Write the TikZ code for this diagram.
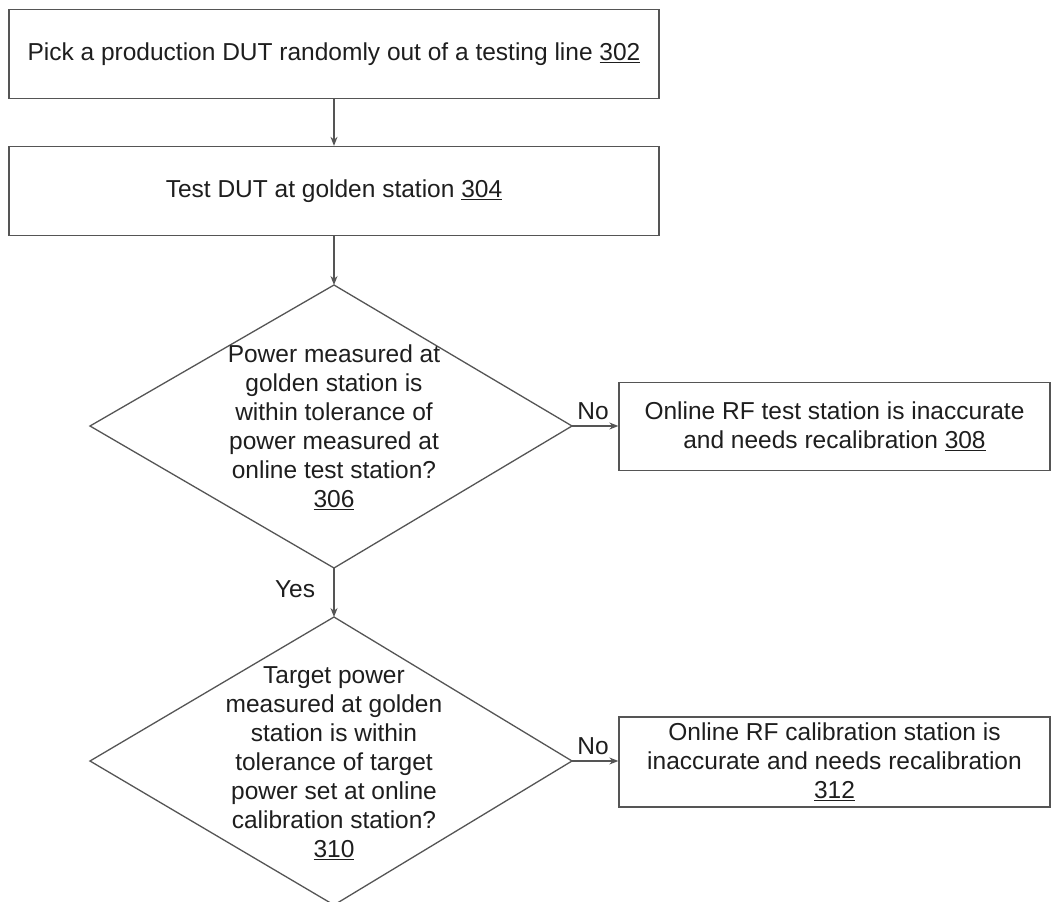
\documentclass[tikz,border=0pt]{standalone}
\usepackage{fontspec}
\setmainfont{Liberation Sans}
\usetikzlibrary{arrows.meta}
\definecolor{linec}{HTML}{555555}
\definecolor{txtc}{HTML}{1E1E1E}
\begin{document}
\begin{tikzpicture}[x=1pt,y=-1pt,
  lbl/.style={text=txtc, font=\fontsize{24.5}{29}\selectfont, align=center, inner sep=0pt},
  stepbox/.style={lbl, draw=linec, line width=1.3pt, minimum width=650pt, minimum height=89pt},
  sidebox/.style={lbl, draw=linec, line width=1.3pt, minimum width=431pt, minimum height=88pt},
  decision/.style={draw=linec, line width=1.3pt, line join=miter},
  arr/.style={draw=linec, line width=1.3pt, -{Stealth[length=9pt,width=7pt]}}]
\useasboundingbox (0,0) rectangle (1053,902);
\clip (0,0) rectangle (1053,902);
\fill[white] (0,0) rectangle (1053,902);

\node[stepbox] (b302) at (334,54) {Pick a production DUT randomly out of a testing line \underline{302}};
\node[stepbox] (b304) at (334,191) {Test DUT at golden station \underline{304}};

\coordinate (d1t) at (334,285);
\coordinate (d1r) at (572,426);
\coordinate (d1b) at (334,568);
\coordinate (d1l) at (90,426);
\draw[decision] (d1t) -- (d1r) -- (d1b) -- (d1l) -- cycle;
\node[lbl] (d1) at (334,427) {Power measured at\\golden station is\\within tolerance of\\power measured at\\online test station?\\\underline{306}};

\node[sidebox] (b308) at (834.5,426.5) {Online RF test station is inaccurate\\and needs recalibration \underline{308}};

\coordinate (d2t) at (334,617);
\coordinate (d2r) at (572,761);
\coordinate (d2b) at (334,905);
\coordinate (d2l) at (90,761);
\draw[decision] (d2t) -- (d2r) -- (d2b) -- (d2l) -- cycle;
\node[lbl] (d2) at (334,763) {Target power\\measured at golden\\station is within\\tolerance of target\\power set at online\\calibration station?\\\underline{310}};

\node[sidebox, minimum height=90pt] (b312) at (834.5,762) {Online RF calibration station is\\inaccurate and needs recalibration\\\underline{312}};

\draw[arr] (b302.south) -- (b304.north);
\draw[arr] (b304.south) -- (d1t);
\draw[arr] (d1r) -- (d1r -| b308.west);
\draw[arr] (d1b) -- (d2t);
\draw[arr] (d2r) -- (d2r -| b312.west);

\node[lbl] (no1) at (593,411) {No};
\node[lbl] (yes1) at (295,589) {Yes};
\node[lbl] (no2) at (593,746) {No};
\end{tikzpicture}
\end{document}
